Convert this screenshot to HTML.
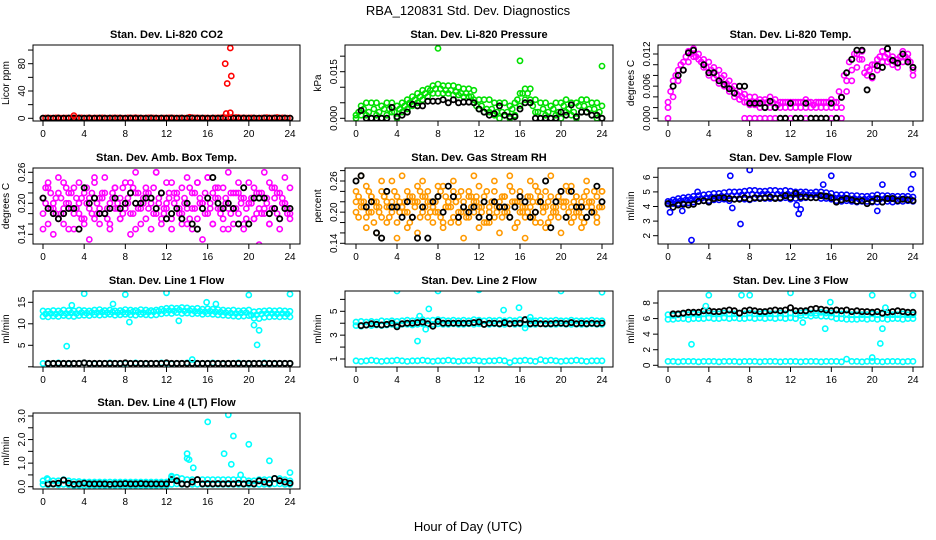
<!DOCTYPE html>
<html><head><meta charset="utf-8"><style>
body{margin:0;background:#fff;width:936px;height:540px;overflow:hidden}
svg{display:block;font-family:"Liberation Sans",sans-serif}
</style></head><body>
<svg id="chart" width="936" height="540" viewBox="0 0 936 540">
<text x="468" y="15" font-size="13" text-anchor="middle">RBA_120831  Std. Dev. Diagnostics</text>
<text x="468" y="531" font-size="13" text-anchor="middle">Hour of Day (UTC)</text>
</svg>
<script>
// ---- data (x grid = i*0.5 hours, i=0..48; offset grid = i*0.5+0.25) ----
const hours = [0,0.5,1,1.5,2,2.5,3,3.5,4,4.5,5,5.5,6,6.5,7,7.5,8,8.5,9,9.5,10,10.5,11,11.5,12,12.5,13,13.5,14,14.5,15,15.5,16,16.5,17,17.5,18,18.5,19,19.5,20,20.5,21,21.5,22,22.5,23,23.5,24];
const hoursOff = [0.25,0.75,1.25,1.75,2.25,2.75,3.25,3.75,4.25,4.75,5.25,5.75,6.25,6.75,7.25,7.75,8.25,8.75,9.25,9.75,10.25,10.75,11.25,11.75,12.25,12.75,13.25,13.75,14.25,14.75,15.25,15.75,16.25,16.75,17.25,17.75,18.25,18.75,19.25,19.75,20.25,20.75,21.25,21.75,22.25,22.75,23.25,23.75];
const xTicks = [0,4,8,12,16,20,24];

const co2Red = [0.3,0.5,0.2,0.6,0.4,0.3,0.8,0.5,0.3,0.6,0.4,0.2,0.5,0.3,0.6,0.4,0.3,0.5,0.7,0.3,0.4,0.6,0.5,0.3,0.4,0.6,0.3,0.5,0.4,0.8,0.6,0.3,0.4,0.5,0.6,1.2,0.8,0.5,0.9,0.6,0.4,0.5,0.3,0.6,0.4,0.5,0.3,0.4,0.3];
const co2RedOff = [0.5,0.3,0.6,0.2,0.5,0.4,0.3,0.6,0.5,0.3,0.4,0.6,0.3,0.5,0.4,0.3,0.6,0.4,0.5,0.3,0.6,0.4,0.3,0.5,0.6,0.4,0.5,0.3,1.5,0.6,0.4,0.5,0.3,0.4,0.6,0.8,1.0,1.2,0.5,0.4,0.6,0.3,0.5,1.0,0.4,1.1,0.6,0.3];
const co2Black = [0.2,0.3,0.2,0.3,0.2,0.3,0.2,0.3,0.2,0.3,0.2,0.3,0.2,0.3,0.2,0.3,0.2,0.3,0.2,0.3,0.2,0.3,0.2,0.3,0.2,0.3,0.2,0.3,0.2,0.3,0.2,0.3,0.2,0.3,0.2,0.3,0.2,0.3,0.2,0.3,0.2,0.3,0.2,0.3,0.2,0.3,0.2,0.3,0.2];
const co2OutX = [3.0,17.7,18.2,17.9,18.3,17.8,18.2];
const co2OutY = [4,80,103,51,62,7,8];

const presHi = [0.001,0.004,0.005,0.005,0.005,0.004,0.005,0.005,0.004,0.005,0.006,0.007,0.008,0.009,0.0095,0.0105,0.011,0.0105,0.0105,0.0105,0.010,0.0095,0.0095,0.009,0.006,0.006,0.006,0.005,0.005,0.005,0.004,0.005,0.008,0.0095,0.0095,0.006,0.005,0.005,0.004,0.005,0.005,0.006,0.005,0.005,0.006,0.006,0.005,0.005,0.004];
const presMid = [0.002,0.003,0.002,0.003,0.002,0.003,0.003,0.002,0.003,0.004,0.005,0.006,0.007,0.008,0.009,0.0095,0.0095,0.009,0.009,0.0085,0.008,0.008,0.007,0.004,0.004,0.003,0.003,0.002,0.002,0.002,0.003,0.006,0.008,0.008,0.004,0.002,0.003,0.002,0.003,0.002,0.004,0.003,0.002,0.004,0.004,0.003,0.003,0.002];
const presLo = [0.000,0.001,0.001,0.000,0.001,0.000,0.001,0.002,0.000,0.002,0.003,0.004,0.005,0.006,0.007,0.008,0.008,0.008,0.008,0.0075,0.0075,0.007,0.007,0.006,0.003,0.002,0.002,0.001,0.000,0.001,0.000,0.001,0.004,0.006,0.006,0.002,0.000,0.001,0.000,0.001,0.000,0.002,0.001,0.000,0.002,0.002,0.001,0.000,0.000];
const presBlack = [null,0.0025,0,0,0,0,0,0.0035,0.0005,0.001,0.002,0.0045,0.004,0.004,0.0055,0.0055,0.0055,0.006,0.005,0.006,0.005,0.0052,0.0052,0.005,0.003,0.002,0.001,0.0015,0.004,0.001,0.0005,0.0005,0.003,0.005,0.005,0,0,0,0,0,0.002,0.001,0.0043,0.0005,0.002,0.002,0.001,0.001,0];
const presOutX = [8,16,24];
const presOutY = [0.0225,0.0185,0.0168];

const tempHi = [0.003,0.007,0.009,0.0105,0.0125,0.013,0.012,0.011,0.0105,0.0095,0.009,0.008,0.007,0.006,0.005,0.0045,0.004,0.004,0.0035,0.0035,0.004,0.0035,0.003,0.003,0.003,0.003,0.003,0.0035,0.003,0.003,0.003,0.003,0.0035,0.003,0.004,0.007,0.009,0.012,0.0125,0.0095,0.010,0.011,0.0125,0.012,0.0115,0.011,0.0125,0.012,0.009];
const tempMid = [0.005,0.008,0.010,0.0115,0.012,0.0115,0.0105,0.0095,0.009,0.008,0.0075,0.0065,0.0055,0.0045,0.004,0.003,0.003,0.003,0.003,0.003,0.003,0.0025,0.003,0.003,0.003,0.003,0.003,0.003,0.0025,0.003,0.003,0.003,0.003,0.005,0.008,0.0105,0.012,0.011,0.0085,0.009,0.01,0.0115,0.0115,0.011,0.0105,0.0115,0.0115,0.0105];
const tempLo = [0.002,0.004,0.007,0.009,0.0105,0.0115,0.011,0.0095,0.008,0.0075,0.0065,0.006,0.005,0.004,0.0035,0.003,0.0025,0.0025,0.002,0.002,0.002,0.002,0.002,0.002,0.002,0.002,0.002,0.002,0.002,0.002,0.002,0.002,0.002,0.002,0.002,0.005,0.007,0.0095,0.011,0.008,0.0075,0.009,0.0105,0.0105,0.010,0.0095,0.0105,0.011,0.008];
const tempZero = [0,null,null,null,null,null,null,null,null,null,null,null,null,null,null,0,0,0,0,0,0,0,0,0,0,0,0,0,0,0,0,0,0,0,0,null,null,null,null,null,null,null,null,null,null,null,null,null,null];
const tempBlack = [null,0.006,0.008,0.009,0.0122,0.0127,null,0.010,0.0085,0.0085,0.007,0.0063,0.0055,0.0047,0.006,0.006,0.0028,0.0028,0.0028,0.002,0.0032,0.002,0,0,0.0028,0,0,0.0028,0,0,0,0,0.0028,0,0.0039,0.0085,0.011,0.0127,0.0127,0.0053,0.0078,0.0098,0.0095,0.013,0.0108,0.0103,0.012,0.0105,0.0095];

const ambA = [0.21,0.23,0.19,0.22,0.24,0.20,0.23,0.18,0.22,0.21,0.25,0.19,0.22,0.20,0.23,0.21,0.19,0.24,0.22,0.20,0.23,0.21,0.26,0.22,0.20,0.24,0.21,0.23,0.19,0.22,0.24,0.20,0.25,0.22,0.21,0.23,0.19,0.22,0.24,0.21,0.20,0.23,0.22,0.19,0.24,0.21,0.22,0.20,0.23];
const ambB = [0.18,0.16,0.20,0.17,0.19,0.15,0.18,0.20,0.16,0.19,0.17,0.21,0.18,0.16,0.19,0.17,0.20,0.18,0.15,0.19,0.17,0.20,0.18,0.16,0.19,0.17,0.21,0.18,0.16,0.19,0.17,0.20,0.18,0.16,0.19,0.17,0.15,0.19,0.18,0.16,0.20,0.17,0.19,0.18,0.16,0.19,0.17,0.20,0.18];
const ambC = [0.15,0.24,0.14,0.25,0.16,0.22,0.15,0.24,0.17,0.13,0.24,0.16,0.25,0.15,0.23,0.17,0.24,0.14,0.26,0.16,0.22,0.15,0.26,0.17,0.24,0.15,0.22,0.16,0.25,0.15,0.24,0.13,0.25,0.16,0.23,0.15,0.26,0.16,0.22,0.15,0.24,0.17,0.12,0.26,0.16,0.23,0.15,0.25,0.17];
const ambD = [0.20,0.22,0.18,0.21,0.23,0.19,0.21,0.17,0.20,0.22,0.18,0.21,0.19,0.22,0.20,0.18,0.21,0.23,0.19,0.20,0.22,0.18,0.21,0.19,0.22,0.20,0.18,0.21,0.23,0.19,0.20,0.22,0.19,0.21,0.18,0.20,0.22,0.19,0.21,0.17,0.20,0.22,0.18,0.21,0.19,0.22,0.20,0.18];
const ambE = [0.23,0.19,0.21,0.18,0.20,0.22,0.19,0.21,0.23,0.18,0.20,0.22,0.17,0.21,0.19,0.23,0.20,0.18,0.22,0.21,0.19,0.23,0.20,0.18,0.21,0.22,0.19,0.20,0.17,0.22,0.21,0.18,0.20,0.23,0.19,0.21,0.18,0.22,0.20,0.19,0.21,0.18,0.22,0.20,0.23,0.18,0.21,0.19];
const ambBlack = [0.21,0.19,0.18,0.17,0.18,0.19,0.19,0.15,0.23,0.20,0.21,0.18,0.18,0.19,0.21,0.19,0.20,0.22,0.20,0.20,0.21,0.21,0.19,0.22,0.17,0.18,0.19,0.17,0.20,0.16,0.15,0.19,0.21,0.25,0.20,0.19,0.20,0.19,0.16,0.23,0.16,0.21,0.21,0.21,0.18,0.19,0.17,0.19,0.19];

const rhA = [0.24,0.22,0.25,0.23,0.21,0.24,0.22,0.26,0.23,0.21,0.24,0.22,0.25,0.23,0.24,0.21,0.23,0.25,0.22,0.24,0.23,0.21,0.24,0.22,0.25,0.23,0.21,0.24,0.22,0.23,0.25,0.22,0.24,0.21,0.23,0.25,0.22,0.24,0.23,0.21,0.24,0.22,0.25,0.23,0.22,0.24,0.21,0.23,0.24];
const rhB = [0.20,0.21,0.19,0.20,0.22,0.19,0.21,0.20,0.18,0.21,0.20,0.19,0.22,0.20,0.19,0.21,0.20,0.18,0.21,0.19,0.20,0.22,0.19,0.20,0.21,0.18,0.20,0.19,0.21,0.20,0.19,0.22,0.20,0.19,0.21,0.20,0.18,0.21,0.19,0.20,0.22,0.19,0.21,0.20,0.19,0.21,0.20,0.19,0.21];
const rhC = [0.22,0.27,0.17,0.23,0.16,0.26,0.18,0.22,0.15,0.27,0.17,0.23,0.16,0.26,0.22,0.18,0.25,0.17,0.22,0.26,0.18,0.15,0.23,0.27,0.17,0.22,0.18,0.26,0.16,0.23,0.27,0.17,0.22,0.15,0.26,0.18,0.23,0.17,0.27,0.22,0.16,0.25,0.18,0.23,0.17,0.26,0.22,0.18,0.24];
const rhD = [0.23,0.21,0.24,0.22,0.20,0.23,0.21,0.24,0.22,0.20,0.23,0.22,0.24,0.21,0.22,0.20,0.24,0.23,0.21,0.22,0.24,0.20,0.23,0.22,0.21,0.24,0.22,0.20,0.23,0.21,0.24,0.22,0.20,0.23,0.22,0.24,0.21,0.22,0.20,0.23,0.21,0.24,0.22,0.20,0.23,0.22,0.24,0.21];
const rhE = [0.19,0.22,0.20,0.18,0.21,0.23,0.19,0.21,0.20,0.22,0.18,0.21,0.19,0.23,0.20,0.22,0.19,0.21,0.18,0.22,0.20,0.19,0.21,0.23,0.20,0.18,0.22,0.21,0.19,0.20,0.22,0.18,0.21,0.20,0.19,0.22,0.20,0.18,0.21,0.19,0.22,0.20,0.19,0.21,0.18,0.22,0.20,0.21];
const rhBlack = [0.26,0.27,0.21,0.22,0.16,0.15,0.24,0.21,0.21,0.19,0.22,0.19,0.15,0.21,0.15,0.22,0.23,0.20,0.25,0.23,0.19,0.21,0.20,0.21,0.19,0.22,0.19,0.22,0.21,0.21,0.19,0.21,0.23,0.22,0.19,0.20,0.22,0.26,0.17,0.22,0.24,0.19,0.24,0.21,0.21,0.19,0.20,0.25,0.22];

const sfHi = [4.35,4.45,4.55,4.6,4.65,4.7,4.75,4.8,4.85,4.9,4.9,4.95,5.0,5.0,5.0,5.05,5.1,5.1,5.05,5.05,5.1,5.1,5.05,5.1,5.05,5.0,5.0,5.0,4.95,5.0,5.0,4.95,4.9,4.8,4.8,4.8,4.75,4.75,4.7,4.7,4.75,4.8,4.75,4.75,4.7,4.7,4.7,4.7,4.65];
const sfMid = [4.3,4.35,4.4,4.45,4.5,4.5,4.55,4.6,4.65,4.65,4.7,4.7,4.75,4.75,4.8,4.8,4.85,4.8,4.85,4.85,4.8,4.85,4.8,4.85,4.8,4.8,4.85,4.8,4.8,4.8,4.75,4.7,4.6,4.6,4.6,4.55,4.55,4.5,4.5,4.55,4.55,4.5,4.55,4.5,4.5,4.5,4.55,4.5];
const sfLo = [4.15,4.2,4.2,4.25,4.25,4.3,4.35,4.4,4.4,4.45,4.45,4.5,4.4,4.5,4.55,4.5,4.45,4.55,4.6,4.55,4.55,4.6,4.55,4.6,4.5,4.55,4.55,4.6,4.6,4.6,4.55,4.55,4.5,4.4,4.35,4.4,4.35,4.3,4.35,4.35,4.3,4.3,4.3,4.35,4.3,4.35,4.35,4.4,4.35];
const sfBlack = [4.2,3.95,4.1,4.15,4.1,4.15,4.35,4.4,4.3,4.55,4.6,4.6,4.55,4.5,4.5,4.6,4.5,4.6,4.55,4.6,4.65,4.55,4.6,4.75,4.6,4.9,4.65,4.65,4.6,4.6,4.75,4.7,4.6,4.3,4.45,4.55,4.45,4.35,4.4,4.2,4.35,4.55,4.3,4.55,4.55,4.4,4.5,4.45,4.4];
const sfOutX = [0.2,1.4,2.3,2.9,6.1,6.3,7.1,8.0,12.8,12.6,13.0,15.2,16.0,21.0,20.5,23.8,24.0];
const sfOutY = [3.6,3.7,1.7,5.0,6.1,3.9,2.8,6.5,3.5,4.1,3.8,5.5,6.1,5.5,3.7,5.2,6.2];

const l1Hi = [13.0,12.9,13.1,13.0,13.2,13.1,13.0,13.2,13.1,13.0,13.2,13.3,13.1,13.2,13.0,13.1,13.3,13.2,13.1,13.3,13.2,13.1,13.2,13.4,13.6,13.7,13.6,13.8,13.7,13.5,13.6,13.4,13.5,13.4,13.3,13.2,13.1,13.2,13.0,13.1,13.2,12.8,12.9,13.0,13.1,13.0,13.1,13.0,12.9];
const l1Mid = [12.3,12.4,12.3,12.5,12.4,12.5,12.4,12.6,12.5,12.6,12.6,12.7,12.6,12.7,12.6,12.7,12.6,12.8,12.7,12.6,12.7,12.8,12.9,13.0,13.1,13.0,13.2,13.0,13.1,12.9,12.9,12.8,12.9,12.8,12.7,12.6,12.5,12.4,12.5,12.6,12.0,12.1,12.3,12.4,12.4,12.3,12.4,12.3];
const l1Lo = [11.7,11.6,11.8,11.7,11.9,11.8,11.7,11.9,12.0,11.9,12.1,12.0,12.1,12.2,12.0,12.1,12.2,12.1,12.0,12.2,12.1,12.0,12.1,12.3,12.5,12.4,12.6,12.4,12.5,12.3,12.4,12.2,12.3,12.2,12.1,12.0,11.9,11.8,11.7,11.8,11.9,11.3,11.2,11.5,11.6,11.7,11.6,11.7,11.6];
const l1Base = [0.8,0.7,0.8,0.9,0.8,0.7,0.8,0.8,0.9,0.8,0.7,0.8,0.8,0.9,0.8,0.7,0.8,0.8,0.9,0.8,0.7,0.8,0.8,0.9,0.8,0.7,0.8,0.8,0.9,0.8,0.7,0.8,0.8,0.9,0.8,0.7,0.8,0.8,0.9,0.8,0.7,0.8,0.8,0.9,0.8,0.7,0.8,0.8,0.8];
const l1Black = [null,0.8,0.8,0.8,0.8,0.8,0.8,0.8,0.9,0.8,0.8,0.8,0.8,0.8,0.8,0.8,0.9,0.8,0.8,0.8,0.8,0.8,0.8,0.8,0.9,0.8,0.8,0.8,0.8,0.8,0.8,0.8,0.8,0.8,0.8,0.8,0.8,0.8,0.8,0.8,0.8,0.8,0.8,0.8,0.8,0.8,0.8,0.8,0.8];
const l1OutX = [2.3,4,8,12,20,24,8.4,13.2,20.8,20.5,21,14.5,15.9,2.8,6.8,16.8];
const l1OutY = [4.8,17,16.8,17.2,16.7,16.9,10.4,10.7,5.1,9.7,8.5,1.7,15,14.3,14.6,14.6];

const l2Hi = [4.1,4.15,4.1,4.15,4.1,4.2,4.15,4.2,4.15,4.2,4.25,4.2,4.25,4.3,4.2,4.25,4.3,4.25,4.2,4.25,4.2,4.25,4.2,4.3,4.25,4.2,4.25,4.2,4.25,4.2,4.25,4.2,4.3,4.25,4.2,4.2,4.25,4.2,4.2,4.25,4.2,4.2,4.25,4.2,4.2,4.2,4.25,4.2,4.2];
const l2Lo = [3.8,3.75,3.85,3.8,3.85,3.8,3.85,3.9,3.85,3.9,3.9,3.85,3.9,3.95,3.9,3.9,3.95,3.9,3.9,3.95,3.9,3.9,3.95,3.9,3.95,3.9,3.9,3.95,3.9,3.9,3.95,3.9,3.95,3.9,3.9,3.9,3.95,3.9,3.9,3.9,3.95,3.9,3.9,3.9,3.9,3.9,3.95,3.9,3.9];
const l2Base = [0.85,0.8,0.85,0.9,0.85,0.8,0.85,0.85,0.9,0.85,0.8,0.85,0.85,0.9,0.85,0.8,0.85,0.85,0.9,0.85,0.8,0.85,0.85,0.9,0.85,0.8,0.85,0.85,0.9,0.85,0.7,0.85,0.85,0.9,0.85,0.8,0.95,0.85,0.9,0.85,0.8,0.85,0.85,0.9,0.85,0.8,0.85,0.85,0.85];
const l2Black = [null,3.8,3.85,3.95,3.9,3.85,3.9,4.0,3.7,3.95,4.0,4.0,4.05,4.1,3.95,3.75,4.15,4.0,4.0,4.0,4.0,4.0,4.0,4.05,4.1,3.9,4.0,4.0,3.95,4.05,3.95,4.0,4.0,4.3,3.95,4.0,3.95,3.95,3.95,4.0,4.0,3.95,4.05,3.95,4.0,3.95,4.0,3.95,4.0];
const l2OutX = [4,8,12,20,24,6,7.1,6.2,6.8,14.4,15.9,16.5,17];
const l2OutY = [6.7,6.7,6.8,6.7,6.6,2.5,5.2,4.6,3.5,5.1,5.3,3.6,4.5];

const l3Hi = [6.5,6.4,6.5,6.6,6.5,6.6,6.5,6.6,6.7,6.6,6.6,6.7,6.6,6.6,6.7,6.6,6.7,6.6,6.6,6.7,6.6,6.6,6.7,6.6,6.7,6.6,6.7,6.8,6.7,6.7,6.8,6.7,6.7,6.6,6.6,6.6,6.5,6.5,6.5,6.5,6.6,6.5,6.6,6.5,6.5,6.5,6.6,6.5,6.5];
const l3Lo = [5.9,5.9,6.0,6.0,5.9,6.0,6.0,6.0,6.1,6.0,6.0,6.1,6.0,6.1,6.0,6.0,6.1,6.0,6.1,6.0,6.1,6.0,6.1,6.0,6.1,6.0,6.4,6.4,6.3,6.4,6.3,6.3,6.2,6.0,6.0,5.9,5.9,5.9,6.0,5.9,6.0,5.9,6.0,5.9,6.0,6.0,5.9,6.0,6.0];
const l3Base = [0.5,0.5,0.45,0.5,0.5,0.5,0.45,0.5,0.5,0.5,0.45,0.5,0.5,0.5,0.45,0.5,0.5,0.5,0.45,0.5,0.5,0.5,0.45,0.5,0.5,0.5,0.45,0.5,0.5,0.5,0.45,0.5,0.5,0.5,0.45,0.8,0.5,0.5,0.45,0.5,0.5,0.5,0.45,0.5,0.5,0.5,0.45,0.5,0.5];
const l3Black = [null,6.6,6.6,6.7,6.8,6.8,6.8,7.0,7.0,6.9,6.9,7.0,7.1,7.0,6.7,7.0,7.1,7.0,6.9,6.9,7.0,7.1,7.0,7.1,7.4,7.0,7.0,7.0,7.2,7.3,7.2,7.1,7.0,7.1,7.0,7.1,6.9,7.0,6.9,6.9,6.8,6.9,6.7,6.8,6.9,7.0,6.9,6.8,6.8];
const l3OutX = [2.3,4,7.2,8,12,13.2,15.4,15.9,20,20.8,21,24,20,3.7,21.3];
const l3OutY = [2.7,9,9,9,9.3,5.5,4.7,8.1,9,2.8,4.7,9,1,7.6,7.4];

const l4Hi = [0.25,0.3,0.25,0.25,0.3,0.25,0.22,0.22,0.2,0.2,0.2,0.2,0.2,0.2,0.2,0.2,0.2,0.2,0.2,0.2,0.2,0.2,0.2,0.2,0.2,0.4,0.4,0.35,0.3,0.3,0.3,0.3,0.3,0.3,0.3,0.3,0.3,0.3,0.3,0.3,0.25,0.25,0.3,0.3,0.3,0.35,0.35,0.3,0.25];
const l4Lo = [0.1,0.08,0.1,0.08,0.1,0.08,0.05,0.06,0.05,0.06,0.05,0.06,0.05,0.06,0.05,0.06,0.05,0.06,0.05,0.06,0.05,0.06,0.05,0.06,0.05,0.1,0.12,0.1,0.1,0.1,0.1,0.1,0.1,0.1,0.1,0.1,0.1,0.1,0.1,0.1,0.1,0.1,0.1,0.1,0.1,0.12,0.12,0.1,0.1];
const l4Black = [null,0.12,0.12,0.15,0.28,0.15,0.1,0.12,0.15,0.12,0.12,0.12,0.12,0.1,0.12,0.12,0.13,0.12,0.12,0.13,0.12,0.12,0.12,0.12,0.12,0.3,0.25,0.12,0.1,0.2,0.3,0.12,0.13,0.12,0.13,0.12,0.13,0.12,0.15,0.12,0.15,0.12,0.25,0.2,0.15,0.35,0.25,0.2,0.15];
const l4OutX = [14,14,14.2,14.6,16,17.6,18,18.5,18.3,20,22,19.2,24,0.4,12.5];
const l4OutY = [1.4,1.2,1.15,0.8,2.75,1.4,3.05,2.15,0.95,1.8,1.1,0.5,0.6,0.35,0.45];

// ---- layout ----
const colL=[33,345,658], colR=[300,613,923], colX0=[43,356,668], colX24=[290,602,913];
const rowT=[45,168,291,413], rowB=[121,244,367,489];
const MAG='#ff00ff', CY='#00ffff', OR='#ff9900', GR='#00e000';
const panels = [
 {name:'co2',title:'Stan. Dev. Li-820 CO2',ylab:'Licor ppm',c:0,r:0,v0:0,p0:118.3,v1:80,p1:63.7,ticks:[0,20,40,60,80,100],labels:[[0,'0'],[40,'40'],[80,'80']],
  series:[[co2Red,'#ff0000'],[co2RedOff,'#ff0000',1],[co2Black,'#000']],out:[co2OutX,co2OutY,'#ff0000']},
 {name:'pressure',title:'Stan. Dev. Li-820 Pressure',ylab:'kPa',c:1,r:0,v0:0,p0:118.3,v1:0.015,p1:71.7,ticks:[0,0.005,0.01,0.015,0.02],labels:[[0,'0.000'],[0.015,'0.015']],
  series:[[presLo,GR],[presMid,GR,1],[presHi,GR],[presBlack,'#000']],out:[presOutX,presOutY,GR]},
 {name:'temp',title:'Stan. Dev. Li-820 Temp.',ylab:'degrees C',c:2,r:0,v0:0,p0:118.3,v1:0.012,p1:54,ticks:[0,0.002,0.004,0.006,0.008,0.01,0.012],labels:[[0,'0.000'],[0.006,'0.006'],[0.012,'0.012']],
  series:[[tempZero,MAG],[tempLo,MAG],[tempMid,MAG,1],[tempHi,MAG],[tempBlack,'#000']]},
 {name:'amb-box',title:'Stan. Dev. Amb. Box Temp.',ylab:'degrees C',c:0,r:1,v0:0.14,p0:234.3,v1:0.26,p1:172.3,ticks:[0.14,0.16,0.18,0.2,0.22,0.24,0.26],labels:[[0.14,'0.14'],[0.2,'0.20'],[0.26,'0.26']],
  series:[[ambC,MAG],[ambB,MAG],[ambA,MAG],[ambD,MAG,1],[ambE,MAG,1],[ambBlack,'#000']]},
 {name:'gas-rh',title:'Stan. Dev. Gas Stream RH',ylab:'percent',c:1,r:1,v0:0.14,p0:243.3,v1:0.26,p1:181,ticks:[0.14,0.16,0.18,0.2,0.22,0.24,0.26,0.28],labels:[[0.14,'0.14'],[0.2,'0.20'],[0.26,'0.26']],
  series:[[rhC,OR],[rhB,OR],[rhA,OR],[rhD,OR,1],[rhE,OR,1],[rhBlack,'#000']]},
 {name:'sample-flow',title:'Stan. Dev. Sample Flow',ylab:'ml/min',c:2,r:1,v0:2,p0:235.7,v1:6,p1:177.3,ticks:[2,3,4,5,6],labels:[[2,'2'],[3,'3'],[4,'4'],[5,'5'],[6,'6']],
  series:[[sfLo,'#0000ff'],[sfMid,'#0000ff',1],[sfHi,'#0000ff'],[sfBlack,'#000']],out:[sfOutX,sfOutY,'#0000ff']},
 {name:'line1',title:'Stan. Dev. Line 1 Flow',ylab:'ml/min',c:0,r:2,v0:5,p0:345.3,v1:15,p1:302.3,ticks:[0,5,10,15],labels:[[5,'5'],[10,'10'],[15,'15']],
  series:[[l1Lo,CY],[l1Mid,CY,1],[l1Hi,CY],[l1Base,CY],[l1Black,'#000']],out:[l1OutX,l1OutY,CY]},
 {name:'line2',title:'Stan. Dev. Line 2 Flow',ylab:'ml/min',c:1,r:2,v0:1,p0:359,v1:5,p1:311.3,ticks:[1,2,3,4,5,6],labels:[[1,'1'],[3,'3'],[5,'5']],
  series:[[l2Lo,CY],[l2Hi,CY],[l2Base,CY],[l2Black,'#000']],out:[l2OutX,l2OutY,CY]},
 {name:'line3',title:'Stan. Dev. Line 3 Flow',ylab:'ml/min',c:2,r:2,v0:0,p0:365.3,v1:8,p1:303,ticks:[0,2,4,6,8],labels:[[0,'0'],[2,'2'],[4,'4'],[6,'6'],[8,'8']],
  series:[[l3Lo,CY],[l3Hi,CY],[l3Base,CY],[l3Black,'#000']],out:[l3OutX,l3OutY,CY]},
 {name:'line4',title:'Stan. Dev. Line 4 (LT) Flow',ylab:'ml/min',c:0,r:3,v0:0,p0:486.7,v1:3,p1:416,ticks:[0,0.5,1,1.5,2,2.5,3],labels:[[0,'0.0'],[1,'1.0'],[2,'2.0'],[3,'3.0']],
  series:[[l4Lo,CY],[l4Hi,CY],[l4Black,'#000']],out:[l4OutX,l4OutY,CY]}
];
const svg=document.getElementById('chart');
const NS='http://www.w3.org/2000/svg';
function el(tag,attrs,parent){const e=document.createElementNS(NS,tag);for(const k in attrs)e.setAttribute(k,attrs[k]);(parent||svg).appendChild(e);return e;}
panels.forEach(p=>{
  const L=colL[p.c],R=colR[p.c],T=rowT[p.r],B=rowB[p.r];
  const xs=v=>colX0[p.c]+v*(colX24[p.c]-colX0[p.c])/24;
  const ys=v=>p.p0+(v-p.v0)*(p.p1-p.p0)/(p.v1-p.v0);
  const g=el('g',{});
  
  
  const t=el('text',{x:(L+R)/2,y:T-7,'font-size':'11','font-weight':'bold','text-anchor':'middle'},g);
  t.textContent=p.title;
  
  
  const yl=el('text',{x:0,y:0,'font-size':'10','text-anchor':'middle',transform:`translate(${L-24},${(T+B)/2}) rotate(-90)`},g);
  yl.textContent=p.ylab;
  
  
  const cid='clip-'+p.name;
  const cp=el('clipPath',{id:cid},g);
  el('rect',{x:L,y:T,width:R-L,height:B-T},cp);
  const pts=el('g',{'clip-path':`url(#${cid})`},g);
  
  
  const drawPt=(x,y,col)=>{
    const black=col==='#000';
    const c=el('circle',{cx:xs(x).toFixed(1),cy:ys(y).toFixed(1),r:2.6,fill:'none',stroke:col,'stroke-width':black?1.8:1.6},pts);
    
    
  };
  p.series.forEach(([arr,col,off])=>{const xg=off?hoursOff:hours;arr.forEach((v,i)=>{if(v!==null&&i<xg.length)drawPt(xg[i],v,col);});});
  if(p.out){p.out[0].forEach((x,i)=>drawPt(x,p.out[1][i],p.out[2]));}
  const box=el('rect',{x:L,y:T,width:R-L,height:B-T,fill:'none',stroke:'#000','stroke-width':1},g);
  
  
  el('line',{x1:xs(0),x2:xs(24),y1:B,y2:B,stroke:'#000'},g);
  xTicks.forEach(v=>{
    el('line',{x1:xs(v),x2:xs(v),y1:B,y2:B+5,stroke:'#000'},g);
    const tl=el('text',{x:xs(v),y:B+16,'font-size':'10','text-anchor':'middle'},g);
    tl.textContent=v;
    
    
  });
  const tk=p.ticks;
  el('line',{x1:L,x2:L,y1:ys(tk[0]),y2:ys(tk[tk.length-1]),stroke:'#000'},g);
  tk.forEach(v=>el('line',{x1:L-5,x2:L,y1:ys(v),y2:ys(v),stroke:'#000'},g));
  p.labels.forEach(([v,s])=>{
    const yt=el('text',{x:0,y:0,'font-size':'10','text-anchor':'middle',transform:`translate(${L-8},${ys(v)}) rotate(-90)`},g);
    yt.textContent=s;
    
    
  });
});
</script>
</body></html>
